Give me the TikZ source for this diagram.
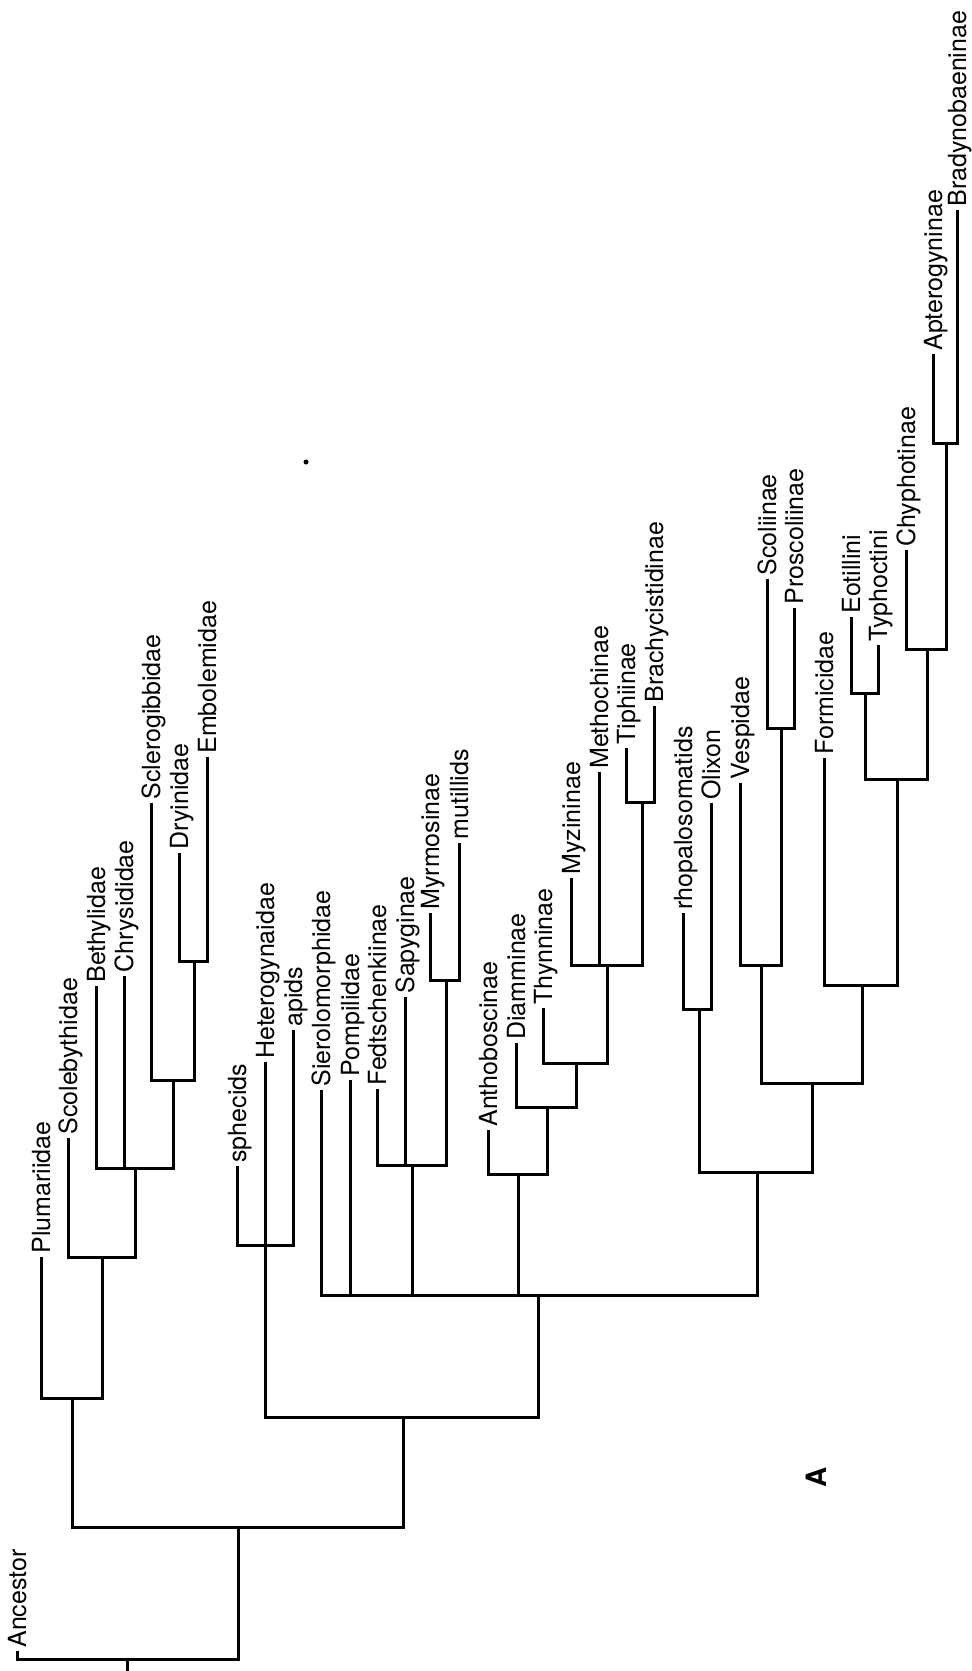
\documentclass[tikz,border=0pt]{standalone}
\usepackage{fontspec}
\setmainfont{TeX Gyre Heros}

\begin{document}
\begin{tikzpicture}[x=0.5pt, y=-0.5pt, every node/.style={scale=1}]
        \pgfdeclarelayer{nodelayer}
        \pgfdeclarelayer{edgelayer}
        \pgfsetlayers{nodelayer,edgelayer,main}
        \tikzstyle{taxon}=[rotate=90, anchor=west, inner sep=0pt, inner xsep=1.5pt, text height=9pt, text depth=0pt, font=\fontsize{12.5}{14}\selectfont]
        \tikzstyle{branch}=[line width=1.5pt]
        \tikzstyle{panel}=[rotate=90, inner sep=0pt, font=\fontsize{14}{16}\selectfont\bfseries]
        \useasboundingbox (0,0) rectangle (971,1671);
        \begin{pgfonlayer}{nodelayer}
            % branching points (stem x, bar y)
            \coordinate (base) at (127, 1671);
            \coordinate (r0) at (127, 1659);
            \coordinate (n1) at (238, 1527);
            \coordinate (n2) at (72, 1398);
            \coordinate (n3) at (102, 1257);
            \coordinate (n4) at (135, 1168);
            \coordinate (n4b) at (173, 1080);
            \coordinate (n4c) at (194, 961);
            \coordinate (n5) at (403, 1417);
            \coordinate (n6) at (265, 1245);
            \coordinate (n7) at (538, 1295);
            \coordinate (n8) at (412, 1165);
            \coordinate (n8b) at (446, 980);
            \coordinate (n9) at (518, 1174);
            \coordinate (n9b) at (547, 1107);
            \coordinate (n9c) at (576, 1063);
            \coordinate (n9d) at (607, 965);
            \coordinate (n9e) at (642, 802);
            \coordinate (n10) at (757, 1172);
            \coordinate (n11) at (699, 1009);
            \coordinate (n12) at (812, 1083);
            \coordinate (n13) at (761, 965);
            \coordinate (n13b) at (781, 728);
            \coordinate (n14) at (862, 985);
            \coordinate (n15) at (897, 779);
            \coordinate (n16) at (865, 693);
            \coordinate (n17) at (927, 649);
            \coordinate (n18) at (946, 443);

            % taxa
            \node [style=taxon] (anc) at (17, 1651) {Ancestor};
            \node [style=taxon] (plum) at (41, 1257) {Plumariidae};
            \node [style=taxon] (scol) at (68, 1138) {Scolebythidae};
            \node [style=taxon] (beth) at (96, 986) {Bethylidae};
            \node [style=taxon] (chry) at (124, 976) {Chrysididae};
            \node [style=taxon] (scle) at (151, 803) {Sclerogibbidae};
            \node [style=taxon] (dryi) at (179, 853) {Dryinidae};
            \node [style=taxon] (embo) at (207, 757) {Embolemidae};
            \node [style=taxon] (sphe) at (237, 1166) {sphecids};
            \node [style=taxon] (hete) at (265, 1062) {Heterogynaidae};
            \node [style=taxon] (apid) at (293, 1030) {apids};
            \node [style=taxon] (sier) at (321, 1090) {Sierolomorphidae};
            \node [style=taxon] (pomp) at (350, 1080) {Pompilidae};
            \node [style=taxon] (fedt) at (377, 1089) {Fedtschenkiinae};
            \node [style=taxon] (sapy) at (405, 997) {Sapyginae};
            \node [style=taxon] (myrm) at (430, 913) {Myrmosinae};
            \node [style=taxon] (muti) at (459, 843) {mutillids};
            \node [style=taxon] (anth) at (488, 1130) {Anthoboscinae};
            \node [style=taxon] (diam) at (516, 1043) {Diamminae};
            \node [style=taxon] (thyn) at (543, 1008) {Thynninae};
            \node [style=taxon] (myzi) at (571, 878) {Myzininae};
            \node [style=taxon] (meth) at (599, 772) {Methochinae};
            \node [style=taxon] (tiph) at (626, 748) {Tiphiinae};
            \node [style=taxon] (brac) at (654, 706) {Brachycistidinae};
            \node [style=taxon] (rhop) at (683, 913) {rhopalosomatids};
            \node [style=taxon] (olix) at (711, 803) {Olixon};
            \node [style=taxon] (vesp) at (740, 783) {Vespidae};
            \node [style=taxon] (scoli) at (767, 579) {Scoliinae};
            \node [style=taxon] (prosc) at (794, 608) {Proscoliinae};
            \node [style=taxon] (form) at (824, 758) {Formicidae};
            \node [style=taxon] (eoti) at (851, 617) {Eotillini};
            \node [style=taxon] (typh) at (878, 645) {Typhoctini};
            \node [style=taxon] (chyp) at (906, 550) {Chyphotinae};
            \node [style=taxon] (apte) at (933, 354) {Apterogyninae};
            \node [style=taxon] (brad) at (957, 210) {Bradynobaeninae};

            \node [style=panel] (lblA) at (816, 1477) {A};
            \fill (306, 462) circle (2.5);
        \end{pgfonlayer}
        \begin{pgfonlayer}{edgelayer}
            \draw [style=branch] (base) to (r0);
            \draw [style=branch] (r0) -| (anc.west);
            \draw [style=branch] (r0) -| (n1);
            % Plumariidae ... Embolemidae
            \draw [style=branch] (n1) -| (n2);
            \draw [style=branch] (n2) -| (plum.west);
            \draw [style=branch] (n2) -| (n3);
            \draw [style=branch] (n3) -| (scol.west);
            \draw [style=branch] (n3) -| (n4);
            \draw [style=branch] (n4) -| (beth.west);
            \draw [style=branch] (n4) -| (chry.west);
            \draw [style=branch] (n4) -| (n4b);
            \draw [style=branch] (n4b) -| (scle.west);
            \draw [style=branch] (n4b) -| (n4c);
            \draw [style=branch] (n4c) -| (dryi.west);
            \draw [style=branch] (n4c) -| (embo.west);
            % sphecids and the rest
            \draw [style=branch] (n1) -| (n5);
            \draw [style=branch] (n5) -| (n6);
            \draw [style=branch] (n6) -| (sphe.west);
            \draw [style=branch] (n6) -| (hete.west);
            \draw [style=branch] (n6) -| (apid.west);
            \draw [style=branch] (n5) -| (n7);
            \draw [style=branch] (n7) -| (sier.west);
            \draw [style=branch] (n7) -| (pomp.west);
            \draw [style=branch] (n7) -| (n8);
            \draw [style=branch] (n8) -| (fedt.west);
            \draw [style=branch] (n8) -| (sapy.west);
            \draw [style=branch] (n8) -| (n8b);
            \draw [style=branch] (n8b) -| (myrm.west);
            \draw [style=branch] (n8b) -| (muti.west);
            \draw [style=branch] (n7) -| (n9);
            \draw [style=branch] (n9) -| (anth.west);
            \draw [style=branch] (n9) -| (n9b);
            \draw [style=branch] (n9b) -| (diam.west);
            \draw [style=branch] (n9b) -| (n9c);
            \draw [style=branch] (n9c) -| (thyn.west);
            \draw [style=branch] (n9c) -| (n9d);
            \draw [style=branch] (n9d) -| (myzi.west);
            \draw [style=branch] (n9d) -| (meth.west);
            \draw [style=branch] (n9d) -| (n9e);
            \draw [style=branch] (n9e) -| (tiph.west);
            \draw [style=branch] (n9e) -| (brac.west);
            \draw [style=branch] (n7) -| (n10);
            \draw [style=branch] (n10) -| (n11);
            \draw [style=branch] (n11) -| (rhop.west);
            \draw [style=branch] (n11) -| (olix.west);
            \draw [style=branch] (n10) -| (n12);
            \draw [style=branch] (n12) -| (n13);
            \draw [style=branch] (n13) -| (vesp.west);
            \draw [style=branch] (n13) -| (n13b);
            \draw [style=branch] (n13b) -| (scoli.west);
            \draw [style=branch] (n13b) -| (prosc.west);
            \draw [style=branch] (n12) -| (n14);
            \draw [style=branch] (n14) -| (form.west);
            \draw [style=branch] (n14) -| (n15);
            \draw [style=branch] (n15) -| (n16);
            \draw [style=branch] (n16) -| (eoti.west);
            \draw [style=branch] (n16) -| (typh.west);
            \draw [style=branch] (n15) -| (n17);
            \draw [style=branch] (n17) -| (chyp.west);
            \draw [style=branch] (n17) -| (n18);
            \draw [style=branch] (n18) -| (apte.west);
            \draw [style=branch] (n18) -| (brad.west);
        \end{pgfonlayer}
\end{tikzpicture}
\end{document}
